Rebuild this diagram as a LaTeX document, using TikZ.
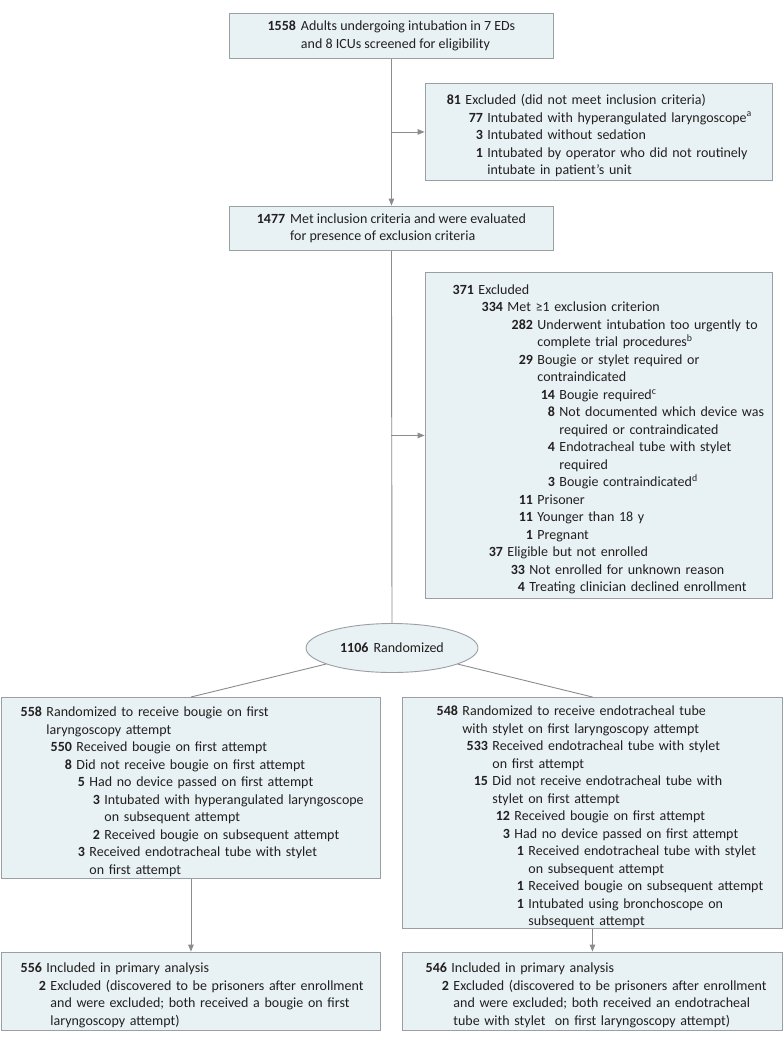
\documentclass[tikz,border=0pt]{standalone}
\usepackage{fontspec}
\setmainfont{Carlito}
\usetikzlibrary{arrows.meta,shapes.geometric}
\definecolor{boxfill}{HTML}{E8F2F4}
\definecolor{boxline}{HTML}{9A9FA1}
\definecolor{conn}{HTML}{8C8C8C}
\definecolor{ink}{HTML}{231F20}
\newcommand\ent[3]{\par\hangindent=#1pt\hangafter=1\noindent\makebox[#1pt][r]{\textbf{#2}\hspace{4.5pt}}#3\par}
\tikzset{
  basebox/.style={draw=boxline, fill=boxfill, line width=0.9pt, inner xsep=0pt, inner ysep=0pt,
    font=\fontsize{14}{17.5}\selectfont, text=ink},
  listbox/.style={basebox, anchor=north west, align=left},
  conline/.style={draw=conn, line width=0.9pt},
  conarrow/.style={conline, -{Triangle[length=7pt,width=5.5pt]}, shorten >=0.4pt},
}
\begin{document}
\begin{tikzpicture}[x=1pt,y=-1pt]
\useasboundingbox[fill=white] (0,0) rectangle (783,1042);

% top box
\node[basebox, anchor=north west, minimum width=324pt, minimum height=45pt] (b1) at (229,13)
  {\textbf{1558}\hspace{5pt}\begin{tabular}[t]{@{}l@{}}Adults undergoing intubation in 7 EDs\\ and 8 ICUs screened for eligibility\end{tabular}};

% exclusion 1
\node[listbox, text width=347pt, minimum height=97pt] (b2) at (425,83) {%
\ent{40}{81}{Excluded (did not meet inclusion criteria)}
\ent{62}{77}{Intubated with hyperangulated laryngoscope\textsuperscript{a}}
\ent{62}{3}{Intubated without sedation}
\ent{62}{1}{Intubated by operator who did not routinely\newline intubate in patient’s unit}};

% second main box
\node[basebox, anchor=north west, minimum width=324pt, minimum height=44pt] (b3) at (229,206)
  {\textbf{1477}\hspace{5pt}\begin{tabular}[t]{@{}l@{}}Met inclusion criteria and were evaluated\\ for presence of exclusion criteria\end{tabular}};

% exclusion 2
\node[listbox, text width=347pt, minimum height=326pt] (b4) at (425,272) {%
\ent{53}{371}{Excluded}
\ent{82}{334}{Met ≥1 exclusion criterion}
\ent{112}{282}{Underwent intubation too urgently to\newline complete trial procedures\textsuperscript{b}}
\ent{112}{29}{Bougie or stylet required or\newline contraindicated}
\ent{134}{14}{Bougie required\textsuperscript{c}}
\ent{134}{8}{Not documented which device was\newline required or contraindicated}
\ent{134}{4}{Endotracheal tube with stylet\newline required}
\ent{134}{3}{Bougie contraindicated\textsuperscript{d}}
\ent{112}{11}{Prisoner}
\ent{112}{11}{Younger than 18 y}
\ent{112}{1}{Pregnant}
\ent{82}{37}{Eligible but not enrolled}
\ent{104}{33}{Not enrolled for unknown reason}
\ent{104}{4}{Treating clinician declined enrollment}};

% randomized
\node[basebox, ellipse, minimum width=172pt, minimum height=49pt] (ell) at (392,648)
  {\textbf{1106}\hspace{5pt}Randomized};

% left arm
\node[listbox, text width=379pt, minimum height=181pt] (lb) at (1,697) {%
\ent{45}{558}{Randomized to receive bougie on first\newline laryngoscopy attempt}
\ent{75}{550}{Received bougie on first attempt}
\ent{75}{8}{Did not receive bougie on first attempt}
\ent{88}{5}{Had no device passed on first attempt}
\ent{103}{3}{Intubated with hyperangulated laryngoscope\newline on subsequent attempt}
\ent{103}{2}{Received bougie on subsequent attempt}
\ent{88}{3}{Received endotracheal tube with stylet\newline on first attempt}};

% right arm
\node[listbox, text width=380pt, minimum height=231pt] (rb) at (402,697) {%
\ent{60}{548}{Randomized to receive endotracheal tube\newline with stylet on first laryngoscopy attempt}
\ent{90}{533}{Received endotracheal tube with stylet\newline on first attempt}
\ent{90}{15}{Did not receive endotracheal tube with\newline stylet on first attempt}
\ent{112}{12}{Received bougie on first attempt}
\ent{112}{3}{Had no device passed on first attempt}
\ent{126}{1}{Received endotracheal tube with stylet\newline on subsequent attempt}
\ent{126}{1}{Received bougie on subsequent attempt}
\ent{126}{1}{Intubated using bronchoscope on\newline subsequent attempt}};

% analysis boxes
\node[listbox, text width=379pt, minimum height=78pt] (la) at (1,952) {%
\ent{45}{556}{Included in primary analysis}
\ent{49}{2}{Excluded (discovered to be prisoners after enrollment\newline and were excluded; both received a bougie on first\newline laryngoscopy attempt)}};
\node[listbox, text width=380pt, minimum height=78pt] (ra) at (402,952) {%
\ent{49}{546}{Included in primary analysis}
\ent{51}{2}{Excluded (discovered to be prisoners after enrollment\newline and were excluded; both received an endotracheal\newline tube with stylet~ on first laryngoscopy attempt)}};

% connectors
\coordinate (j1) at (b2.west -| b1.south);
\coordinate (j2) at (b4.west -| b1.south);
\draw[conarrow] (b1.south) -- (b3.north);
\draw[conarrow] (j1) -- (b2.west);
\draw[conline] (b3.south) -- (ell.north);
\draw[conarrow] (j2) -- (b4.west);
\draw[conline] (ell) -- (lb.north);
\draw[conline] (ell) -- (rb.north);
\draw[conarrow] (lb.south) -- (la.north);
\draw[conarrow] (rb.south) -- (ra.north);
\end{tikzpicture}
\end{document}
